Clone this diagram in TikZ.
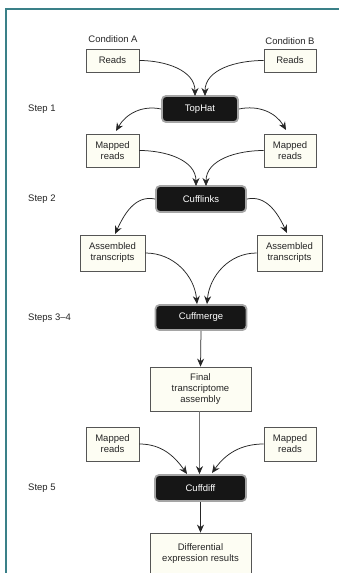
\documentclass[tikz,border=0pt]{standalone}
\usepackage{fontspec}
\setmainfont{Liberation Sans}
\usetikzlibrary{arrows.meta}
\definecolor{frameteal}{RGB}{58,128,136}
\definecolor{boxfill}{RGB}{253,253,243}
\definecolor{boxline}{RGB}{85,85,85}
\definecolor{toolfill}{RGB}{22,22,22}
\definecolor{toolline}{RGB}{165,165,165}
\tikzset{
  databox/.style={draw=boxline, fill=boxfill, line width=0.8pt, align=center, inner sep=0pt, font=\fontsize{9.5}{11}\selectfont, text=black!85},
  toolbox/.style={draw=toolline, fill=toolfill, line width=1.8pt, rounded corners=4pt, inner sep=0pt, text=white, font=\fontsize{9.5}{11}\selectfont},
  steplabel/.style={anchor=west, inner sep=0pt, font=\fontsize{9.5}{11}\selectfont, text=black!85},
  flow/.style={draw=black!85, line width=0.75pt, -{Stealth[length=8pt,width=7pt]}},
}
\begin{document}
\begin{tikzpicture}[x=1pt,y=-1pt]
\useasboundingbox (0,0) rectangle (339,573);
\clip (0,0) rectangle (339,573);
\fill[white] (0,0) rectangle (339,573);
\draw[frameteal, line width=2pt] (6,580) -- (6,9) -- (345,9);

% labels
\node[steplabel, anchor=center] (condA) at (113,39) {Condition A};
\node[steplabel, anchor=center] (condB) at (290,41) {Condition B};
\node[steplabel] (s1) at (28,109) {Step 1};
\node[steplabel] (s2) at (28,199) {Step 2};
\node[steplabel] (s34) at (28,318) {Steps 3–4};
\node[steplabel] (s5) at (28,488) {Step 5};

% boxes
\node[databox, minimum width=53pt, minimum height=23pt] (rA) at (112.5,60.5) {Reads};
\node[databox, minimum width=52pt, minimum height=23pt] (rB) at (290,60.5) {Reads};
\node[toolbox, minimum width=76pt, minimum height=26pt] (tophat) at (200,109) {TopHat};
\node[databox, minimum width=53pt, minimum height=33pt] (mA) at (112.5,150.5) {Mapped\\reads};
\node[databox, minimum width=52pt, minimum height=33pt] (mB) at (290,150.5) {Mapped\\reads};
\node[toolbox, minimum width=90pt, minimum height=26pt] (cufflinks) at (201,199) {Cufflinks};
\node[databox, minimum width=65pt, minimum height=36pt] (aA) at (112.5,253) {Assembled\\transcripts};
\node[databox, minimum width=65pt, minimum height=36pt] (aB) at (289.5,253) {Assembled\\transcripts};
\node[toolbox, minimum width=91pt, minimum height=25pt] (cuffmerge) at (201,317.5) {Cuffmerge};
\node[databox, minimum width=101pt, minimum height=44pt] (final) at (200.5,389) {Final\\transcriptome\\assembly};
\node[databox, minimum width=53pt, minimum height=34pt] (m2A) at (112.5,444) {Mapped\\reads};
\node[databox, minimum width=52pt, minimum height=34pt] (m2B) at (290,444) {Mapped\\reads};
\node[toolbox, minimum width=91pt, minimum height=26pt] (cuffdiff) at (200.5,488) {Cuffdiff};
\node[databox, minimum width=101pt, minimum height=46pt] (diff) at (200.5,556) {};
\node[font=\fontsize{9.5}{11}\selectfont, text=black!85, align=center, inner sep=0pt] (difftext) at (200.5,554) {Differential\\expression results};

% arrow endpoints
\coordinate (t1) at (195,96);
\coordinate (t2) at (205,96);
\coordinate (t3) at (116,131);
\coordinate (t4) at (286,130);
\coordinate (t5) at (196,186);
\coordinate (t6) at (206,186);
\coordinate (t7) at (115,234);
\coordinate (t8) at (287,233);
\coordinate (t9) at (197,304);
\coordinate (t10) at (207,304);
\coordinate (t11) at (187,474);
\coordinate (t12) at (212,473);

% connectors
\draw[flow] (rA.east) to[out=0,in=90] (t1);
\draw[flow] (rB.west) to[out=180,in=90] (t2);
\draw[flow] (tophat.west) to[out=168,in=60] (t3);
\draw[flow] (tophat.east) to[out=12,in=120] (t4);
\draw[flow] (mA.east) to[out=0,in=90] (t5);
\draw[flow] (mB.west) to[out=180,in=90] (t6);
\draw[flow] (cufflinks.west) to[out=168,in=65] (t7);
\draw[flow] (cufflinks.east) to[out=12,in=115] (t8);
\draw[flow] (aA.east) to[out=0,in=95] (t9);
\draw[flow] (aB.west) to[out=180,in=85] (t10);
\draw[flow] (cuffmerge.south) -- (final.north);
\draw[draw=black!55, line width=0.8pt, -{Stealth[length=8pt,width=7pt,black!85]}] (final.south -| cuffdiff.north) ++(-1,0) -- ([xshift=-1pt]cuffdiff.north);
\draw[flow] (m2A.east) to[out=0,in=125] (t11);
\draw[flow] (m2B.west) to[out=180,in=55] (t12);
\draw[flow] (cuffdiff.south) -- (diff.north);
\end{tikzpicture}
\end{document}
